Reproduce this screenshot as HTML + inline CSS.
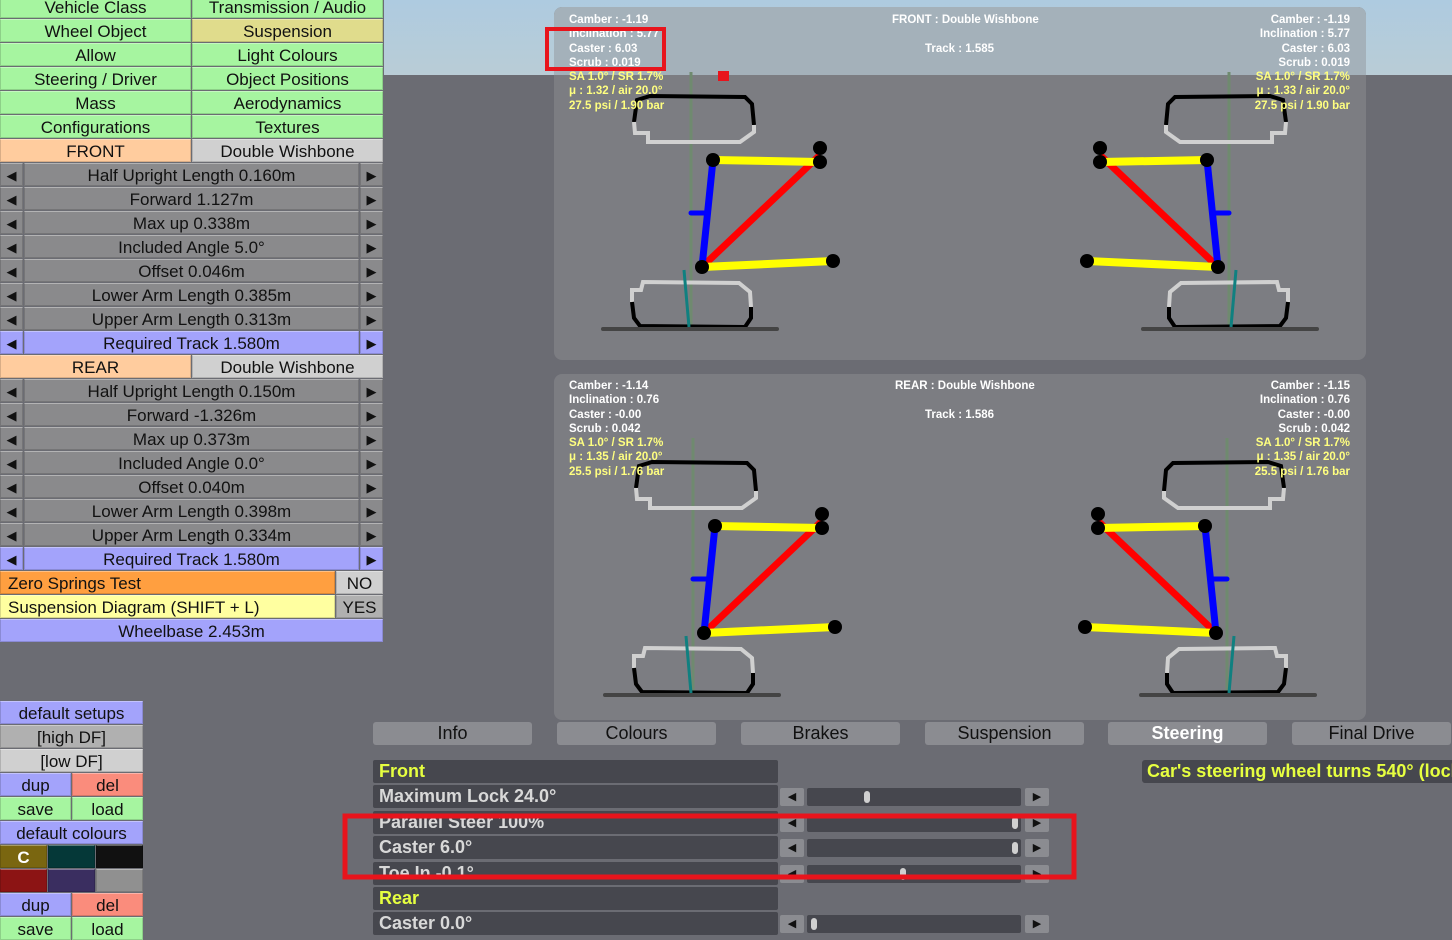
<!DOCTYPE html>
<html><head><meta charset="utf-8"><style>
*{margin:0;padding:0;box-sizing:border-box}
body{width:1452px;height:930px;overflow:hidden;background:#6b6c73;position:relative;font-family:"Liberation Sans",sans-serif}
.a{position:absolute}
.b{position:absolute;height:23px;font-size:17px;line-height:23px;text-align:center;color:#111;border:1px solid rgba(0,0,0,.15);border-top-color:rgba(255,255,255,.35);white-space:nowrap;overflow:hidden}
.g{background:#a6f5a0}
.s{background:#8a8a8c}
.ar{background:#8a8a8c;font-size:13px}
.bl{background:#a3a3fb}
.t{position:absolute;font-size:11.5px;font-weight:bold;line-height:14.3px;color:#fff;white-space:nowrap}
.y{color:#ffff80}
.tab{position:absolute;top:722px;height:23px;width:159px;background:#8b8c91;border-radius:3px;font-size:18px;line-height:23px;text-align:center;color:#111}
.row{position:absolute;left:373px;width:405px;height:23px;background:#46474e;border-radius:2px;font-size:18px;line-height:23px;color:#d8d8d8;padding-left:6px;font-weight:bold}
.sl{position:absolute;height:18px;background:#8b8c91;border-radius:2px;font-size:11px;line-height:18px;text-align:center;color:#111}
.tr{position:absolute;left:807px;width:214px;height:18px;background:#46474e;border-radius:2px}
.kn{position:absolute;width:6px;height:12px;background:#d0d0d0;border-radius:3px;top:3px}
</style></head><body>
<div class="a" style="left:384px;top:0;width:1068px;height:75px;background:linear-gradient(#aecbe0,#b9ccd6)"></div>
<div class="a" style="left:554px;top:7px;width:812px;height:353px;background:#7c7d82;border-radius:8px;overflow:hidden"><div class="a" style="left:0;top:0;width:812px;height:68px;background:#a4b1ba"></div></div>
<div class="a" style="left:554px;top:374px;width:812px;height:346px;background:#7c7d82;border-radius:8px"></div>

<svg class="a" style="left:0;top:0" width="1452" height="930">
<defs>
<g id="corner">
<line x1="691" y1="72" x2="691" y2="330" stroke="#6f8a6f" stroke-width="3"/>
<path d="M634,122 L637,100 L650,96 L745,97 L752,104 L754,125" fill="none" stroke="#000" stroke-width="4"/>
<path d="M634,122 L635,133 L648,133 L648,142 L740,142 L754,132 L754,125" fill="none" stroke="#d0d0d0" stroke-width="4"/>
<path d="M632,302 L632,290 L641,290 L643,282 L739,283 L750,292 L751,307" fill="none" stroke="#d0d0d0" stroke-width="4"/>
<path d="M632,302 L634,318 L640,326 L745,327 L751,318 L751,307" fill="none" stroke="#000" stroke-width="4"/>
<line x1="603" y1="329" x2="777" y2="329" stroke="#444" stroke-width="4" stroke-linecap="round"/>
<line x1="684" y1="270" x2="689" y2="327" stroke="#108080" stroke-width="3"/>
<line x1="702" y1="267" x2="820" y2="155" stroke="#f00" stroke-width="7"/>
<line x1="713" y1="160" x2="820" y2="162" stroke="#ff0" stroke-width="8"/>
<line x1="702" y1="267" x2="833" y2="261" stroke="#ff0" stroke-width="8"/>
<line x1="713" y1="160" x2="702" y2="267" stroke="#00f" stroke-width="7"/>
<line x1="691" y1="213" x2="708" y2="213" stroke="#00f" stroke-width="5" stroke-linecap="round"/>
<circle cx="713" cy="160" r="7"/><circle cx="820" cy="148" r="7"/><circle cx="820" cy="162" r="7"/>
<circle cx="702" cy="267" r="7"/><circle cx="833" cy="261" r="7"/>
</g>
</defs>
<use href="#corner"/>
<use href="#corner" transform="translate(1920,0) scale(-1,1)"/>
<use href="#corner" transform="translate(2,366)"/>
<use href="#corner" transform="translate(1918,366) scale(-1,1)"/>
<rect x="718" y="71" width="11" height="10" fill="#e8141c"/>
</svg>

<div class="t" style="left:569px;top:13px">Camber : -1.19<br>Inclination : 5.77<br>Caster : 6.03<br>Scrub : 0.019<br><span class="y">SA 1.0° / SR 1.7%<br>μ : 1.32 / air 20.0°<br>27.5 psi / 1.90 bar</span></div>
<div class="t" style="left:892px;top:13px">FRONT : Double Wishbone</div>
<div class="t" style="left:925px;top:42px">Track : 1.585</div>
<div class="t" style="right:102px;top:13px;text-align:right">Camber : -1.19<br>Inclination : 5.77<br>Caster : 6.03<br>Scrub : 0.019<br><span class="y">SA 1.0° / SR 1.7%<br>μ : 1.33 / air 20.0°<br>27.5 psi / 1.90 bar</span></div>
<div class="t" style="left:569px;top:379px">Camber : -1.14<br>Inclination : 0.76<br>Caster : -0.00<br>Scrub : 0.042<br><span class="y">SA 1.0° / SR 1.7%<br>μ : 1.35 / air 20.0°<br>25.5 psi / 1.76 bar</span></div>
<div class="t" style="left:895px;top:379px">REAR : Double Wishbone</div>
<div class="t" style="left:925px;top:408px">Track : 1.586</div>
<div class="t" style="right:102px;top:379px;text-align:right">Camber : -1.15<br>Inclination : 0.76<br>Caster : -0.00<br>Scrub : 0.042<br><span class="y">SA 1.0° / SR 1.7%<br>μ : 1.35 / air 20.0°<br>25.5 psi / 1.76 bar</span></div>

<div class="b g" style="left:0;top:-5px;width:191px">Vehicle Class</div><div class="b g" style="left:192px;top:-5px;width:191px">Transmission / Audio</div>
<div class="b g" style="left:0;top:19px;width:191px">Wheel Object</div><div class="b" style="left:192px;top:19px;width:191px;background:#e0dc8c">Suspension</div>
<div class="b g" style="left:0;top:43px;width:191px">Allow</div><div class="b g" style="left:192px;top:43px;width:191px">Light Colours</div>
<div class="b g" style="left:0;top:67px;width:191px">Steering / Driver</div><div class="b g" style="left:192px;top:67px;width:191px">Object Positions</div>
<div class="b g" style="left:0;top:91px;width:191px">Mass</div><div class="b g" style="left:192px;top:91px;width:191px">Aerodynamics</div>
<div class="b g" style="left:0;top:115px;width:191px">Configurations</div><div class="b g" style="left:192px;top:115px;width:191px">Textures</div>
<div class="b" style="left:0;top:139px;width:191px;background:#ffcc9e">FRONT</div><div class="b" style="left:192px;top:139px;width:191px;background:#d0d0d0">Double Wishbone</div>

<div class="b ar" style="left:0;top:163px;width:23px">◀</div><div class="b s" style="left:24px;top:163px;width:335px">Half Upright Length 0.160m</div><div class="b ar" style="left:360px;top:163px;width:23px">▶</div>
<div class="b ar" style="left:0;top:187px;width:23px">◀</div><div class="b s" style="left:24px;top:187px;width:335px">Forward 1.127m</div><div class="b ar" style="left:360px;top:187px;width:23px">▶</div>
<div class="b ar" style="left:0;top:211px;width:23px">◀</div><div class="b s" style="left:24px;top:211px;width:335px">Max up 0.338m</div><div class="b ar" style="left:360px;top:211px;width:23px">▶</div>
<div class="b ar" style="left:0;top:235px;width:23px">◀</div><div class="b s" style="left:24px;top:235px;width:335px">Included Angle 5.0°</div><div class="b ar" style="left:360px;top:235px;width:23px">▶</div>
<div class="b ar" style="left:0;top:259px;width:23px">◀</div><div class="b s" style="left:24px;top:259px;width:335px">Offset 0.046m</div><div class="b ar" style="left:360px;top:259px;width:23px">▶</div>
<div class="b ar" style="left:0;top:283px;width:23px">◀</div><div class="b s" style="left:24px;top:283px;width:335px">Lower Arm Length 0.385m</div><div class="b ar" style="left:360px;top:283px;width:23px">▶</div>
<div class="b ar" style="left:0;top:307px;width:23px">◀</div><div class="b s" style="left:24px;top:307px;width:335px">Upper Arm Length 0.313m</div><div class="b ar" style="left:360px;top:307px;width:23px">▶</div>
<div class="b bl" style="left:0;top:331px;width:23px;font-size:13px">◀</div><div class="b bl" style="left:24px;top:331px;width:335px">Required Track 1.580m</div><div class="b bl" style="left:360px;top:331px;width:23px;font-size:13px">▶</div>

<div class="b" style="left:0;top:355px;width:191px;background:#ffcc9e">REAR</div><div class="b" style="left:192px;top:355px;width:191px;background:#d0d0d0">Double Wishbone</div>
<div class="b ar" style="left:0;top:379px;width:23px">◀</div><div class="b s" style="left:24px;top:379px;width:335px">Half Upright Length 0.150m</div><div class="b ar" style="left:360px;top:379px;width:23px">▶</div>
<div class="b ar" style="left:0;top:403px;width:23px">◀</div><div class="b s" style="left:24px;top:403px;width:335px">Forward -1.326m</div><div class="b ar" style="left:360px;top:403px;width:23px">▶</div>
<div class="b ar" style="left:0;top:427px;width:23px">◀</div><div class="b s" style="left:24px;top:427px;width:335px">Max up 0.373m</div><div class="b ar" style="left:360px;top:427px;width:23px">▶</div>
<div class="b ar" style="left:0;top:451px;width:23px">◀</div><div class="b s" style="left:24px;top:451px;width:335px">Included Angle 0.0°</div><div class="b ar" style="left:360px;top:451px;width:23px">▶</div>
<div class="b ar" style="left:0;top:475px;width:23px">◀</div><div class="b s" style="left:24px;top:475px;width:335px">Offset 0.040m</div><div class="b ar" style="left:360px;top:475px;width:23px">▶</div>
<div class="b ar" style="left:0;top:499px;width:23px">◀</div><div class="b s" style="left:24px;top:499px;width:335px">Lower Arm Length 0.398m</div><div class="b ar" style="left:360px;top:499px;width:23px">▶</div>
<div class="b ar" style="left:0;top:523px;width:23px">◀</div><div class="b s" style="left:24px;top:523px;width:335px">Upper Arm Length 0.334m</div><div class="b ar" style="left:360px;top:523px;width:23px">▶</div>
<div class="b bl" style="left:0;top:547px;width:23px;font-size:13px">◀</div><div class="b bl" style="left:24px;top:547px;width:335px">Required Track 1.580m</div><div class="b bl" style="left:360px;top:547px;width:23px;font-size:13px">▶</div>

<div class="b" style="left:0;top:571px;width:335px;background:#ff9f40;text-align:left;padding-left:7px">Zero Springs Test</div><div class="b" style="left:336px;top:571px;width:47px;background:#d0d0d0">NO</div>
<div class="b" style="left:0;top:595px;width:335px;background:#ffffa0;text-align:left;padding-left:7px">Suspension Diagram (SHIFT + L)</div><div class="b" style="left:336px;top:595px;width:47px;background:#b0b0b0">YES</div>
<div class="b bl" style="left:0;top:619px;width:383px">Wheelbase 2.453m</div>

<div class="b bl" style="left:0;top:701px;width:143px">default setups</div>
<div class="b" style="left:0;top:725px;width:143px;background:#b0b0b0">[high DF]</div>
<div class="b" style="left:0;top:749px;width:143px;background:#d0d0d0">[low DF]</div>
<div class="b bl" style="left:0;top:773px;width:71px">dup</div><div class="b" style="left:72px;top:773px;width:71px;background:#fa8c7c">del</div>
<div class="b g" style="left:0;top:797px;width:71px">save</div><div class="b g" style="left:72px;top:797px;width:71px">load</div>
<div class="b bl" style="left:0;top:821px;width:143px">default colours</div>
<div class="b" style="left:0;top:845px;width:47px;background:#7a6610;color:#fff;font-weight:bold">C</div><div class="b" style="left:48px;top:845px;width:47px;background:#053838"></div><div class="b" style="left:96px;top:845px;width:47px;background:#111"></div>
<div class="b" style="left:0;top:869px;width:47px;background:#8c1414"></div><div class="b" style="left:48px;top:869px;width:47px;background:#3a2e60"></div><div class="b" style="left:96px;top:869px;width:47px;background:#909090"></div>
<div class="b bl" style="left:0;top:893px;width:71px">dup</div><div class="b" style="left:72px;top:893px;width:71px;background:#fa8c7c">del</div>
<div class="b g" style="left:0;top:917px;width:71px">save</div><div class="b g" style="left:72px;top:917px;width:71px">load</div>

<div class="tab" style="left:373px">Info</div>
<div class="tab" style="left:557px">Colours</div>
<div class="tab" style="left:741px">Brakes</div>
<div class="tab" style="left:925px">Suspension</div>
<div class="tab" style="left:1108px;color:#fff;font-weight:bold">Steering</div>
<div class="tab" style="left:1292px">Final Drive</div>

<div class="row" style="top:760px;color:#e6ff40">Front</div>
<div class="row" style="top:785px">Maximum Lock 24.0°</div>
<div class="row" style="top:811px">Parallel Steer 100%</div>
<div class="row" style="top:836px">Caster 6.0°</div>
<div class="row" style="top:862px">Toe In -0.1°</div>
<div class="row" style="top:887px;color:#e6ff40">Rear</div>
<div class="row" style="top:912px">Caster 0.0°</div>

<div class="sl" style="left:780px;top:788px;width:24px">◀</div><div class="tr" style="top:788px"><div class="kn" style="left:57px"></div></div><div class="sl" style="left:1025px;top:788px;width:24px">▶</div>
<div class="sl" style="left:780px;top:814px;width:24px">◀</div><div class="tr" style="top:814px"><div class="kn" style="left:205px"></div></div><div class="sl" style="left:1025px;top:814px;width:24px">▶</div>
<div class="sl" style="left:780px;top:839px;width:24px">◀</div><div class="tr" style="top:839px"><div class="kn" style="left:205px"></div></div><div class="sl" style="left:1025px;top:839px;width:24px">▶</div>
<div class="sl" style="left:780px;top:865px;width:24px">◀</div><div class="tr" style="top:865px"><div class="kn" style="left:93px"></div></div><div class="sl" style="left:1025px;top:865px;width:24px">▶</div>
<div class="sl" style="left:780px;top:915px;width:24px">◀</div><div class="tr" style="top:915px"><div class="kn" style="left:4px"></div></div><div class="sl" style="left:1025px;top:915px;width:24px">▶</div>

<div class="a" style="left:1142px;top:760px;width:320px;height:23px;background:#46474e;border-radius:3px;color:#e6ff40;font-weight:bold;font-size:18px;line-height:23px;padding-left:5px;white-space:nowrap;overflow:hidden">Car's steering wheel turns 540° (lock to lock)</div>

<svg class="a" style="left:0;top:0;z-index:5" width="1452" height="930">
<rect x="547" y="29" width="117" height="40" fill="none" stroke="#e8141c" stroke-width="4"/>
<rect x="345" y="816" width="729" height="61" fill="none" stroke="#e8141c" stroke-width="5"/>
</svg>
</body></html>
